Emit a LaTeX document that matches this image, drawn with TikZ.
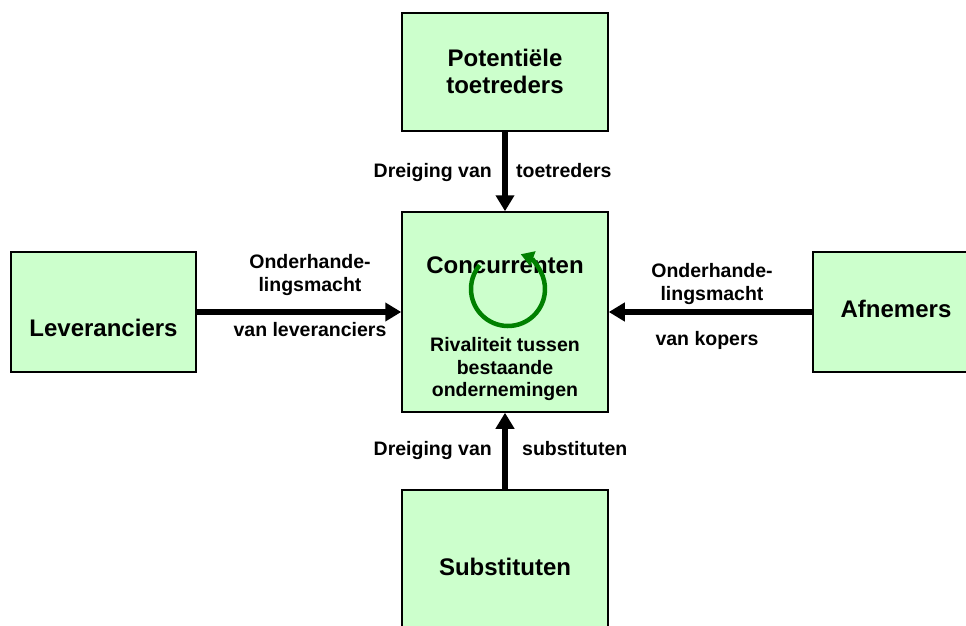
\documentclass[tikz,border=0pt]{standalone}
\usepackage{fontspec}
\setmainfont{Liberation Sans}
\usetikzlibrary{arrows.meta}
\definecolor{boxfill}{RGB}{204,255,204}
\definecolor{ringgreen}{RGB}{0,128,0}
\tikzset{
  forcebox/.style={draw=black, line width=1.5pt, fill=boxfill, rectangle, inner sep=0pt},
  bigtxt/.style={font=\fontsize{24}{27}\selectfont\bfseries, align=center, inner sep=0pt},
  smalltxt/.style={font=\fontsize{19.5}{22.5}\selectfont\bfseries, align=center, inner sep=0pt},
  force/.style={line width=6pt, -{Triangle[length=16pt,width=18pt]}},
}
\begin{document}
\begin{tikzpicture}[x=1pt,y=-1pt]
\useasboundingbox (0,0) rectangle (966,626);
\clip (0,0) rectangle (966,626);
% boxes
\node[forcebox, minimum width=206, minimum height=118] (top) at (505,72) {};
\node[bigtxt] (toptxt) at (505,71.5) {Potentiële\\toetreders};
\node[forcebox, minimum width=206, minimum height=200] (conc) at (505,312) {};
\node[forcebox, minimum width=185, minimum height=120] (lev) at (103.5,312) {};
\node[bigtxt] (levtxt) at (103.5,328) {Leveranciers};
\node[forcebox, minimum width=166, minimum height=120] (afn) at (896,312) {};
\node[bigtxt] (afntxt) at (896,309) {Afnemers};
\node[forcebox, minimum width=206, minimum height=155] (sub) at (505,567.5) {};
\node[bigtxt] (subtxt) at (505,567) {Substituten};
% center contents
\node[bigtxt, anchor=base] (conctxt) at (505,273.6) {Concurrenten};
\coordinate (ringc) at (508,289);
\draw[ringgreen, line width=4.5pt, -{Triangle[length=13pt,width=15pt]}]
  ([shift={(-140:37)}]ringc) arc[start angle=-140, end angle=-430, radius=37];
\node[smalltxt] (rival) at (505,369) {Rivaliteit tussen\\bestaande\\ondernemingen};
% arrows
\draw[force] (top.south) -- (conc.north);
\draw[force] (sub.north) -- (conc.south);
\draw[force] (lev.east) -- (conc.west);
\draw[force] (afn.west) -- (conc.east);
% labels
\node[smalltxt, anchor=base east] (dt1) at (492,177) {Dreiging van};
\node[smalltxt, anchor=base west] (dt2) at (516,177) {toetreders};
\node[smalltxt, anchor=base east] (ds1) at (492,455) {Dreiging van};
\node[smalltxt, anchor=base west] (ds2) at (522,455) {substituten};
\node[smalltxt] (ol1) at (310,275) {Onderhande-\\lingsmacht};
\node[smalltxt, anchor=base] (ol2) at (310,336) {van leveranciers};
\node[smalltxt] (or1) at (712,284) {Onderhande-\\lingsmacht};
\node[smalltxt, anchor=base] (or2) at (707,345) {van kopers};
\end{tikzpicture}
\end{document}
